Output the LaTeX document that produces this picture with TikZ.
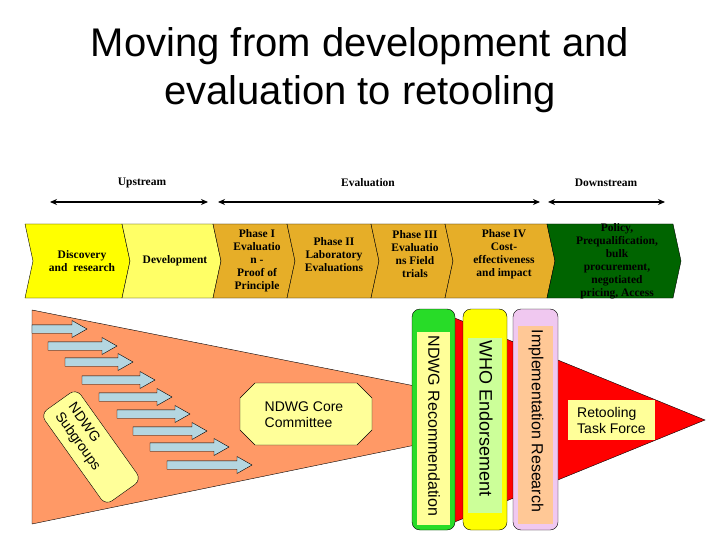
\documentclass[tikz,border=0pt]{standalone}
\usepackage{fontspec}
\setmainfont{Liberation Sans}
\newfontfamily\tms{Liberation Serif}
\usetikzlibrary{arrows.meta}
\definecolor{salmon}{RGB}{255,153,102}
\definecolor{lblue}{RGB}{180,214,224}
\definecolor{lyel}{RGB}{255,255,153}
\definecolor{chyel}{RGB}{255,255,0}
\definecolor{chlyel}{RGB}{255,255,102}
\definecolor{gold}{RGB}{230,174,40}
\definecolor{dgreen}{RGB}{0,100,0}
\definecolor{bgreen}{RGB}{40,220,40}
\definecolor{lgreen}{RGB}{204,255,153}
\definecolor{pinkb}{RGB}{240,200,240}
\definecolor{peach}{RGB}{255,200,150}
\newcommand{\chevron}[3]{% x1, x2, fill
  \draw[thin,fill=#3] (#1,224) -- (#2,224) -- ({#2+8},261) -- (#2,298) -- (#1,298) -- ({#1+8},261) -- cycle;}
\newcommand{\blockarrow}[3]{% start, tip, y
  \draw[thin,fill=lblue] (#1,{#3-4.2}) -- ({#2-15},{#3-4.2}) -- ({#2-15},{#3-8.5}) -- (#2,#3)
     -- ({#2-15},{#3+8.5}) -- ({#2-15},{#3+4.2}) -- (#1,{#3+4.2}) -- cycle;}
\tikzset{
  titletext/.style={font=\fontsize{40}{48}\selectfont, anchor=base, inner sep=0},
  headtext/.style={font=\tms\bfseries\fontsize{11.5}{13}\selectfont},
  chevtext/.style={font=\tms\bfseries\fontsize{11.5}{13}\selectfont, align=center, inner sep=0},
  harrow/.style={line width=1.6pt, {Stealth[length=7pt,width=6pt]}-{Stealth[length=7pt,width=6pt]}},
  bartext/.style={rotate=-90, font=\fontsize{16}{19}\selectfont, inner sep=0},
  boxtext/.style={font=\fontsize{14}{16}\selectfont, align=left, inner sep=0},
}
\begin{document}
\begin{tikzpicture}[x=1pt,y=-1pt]
\useasboundingbox[fill=white] (0,0) rectangle (720,540);
% title
\node[titletext] (t1) at (360,57) {Moving from development and};
\node[titletext] (t2) at (360,105) {evaluation to retooling};
% header labels
\node[headtext] (up) at (142,183) {Upstream};
\node[headtext] (ev) at (368,183) {Evaluation};
\node[headtext] (down) at (606,183) {Downstream};
\coordinate (ua) at (50,202); \coordinate (ub) at (208,202);
\coordinate (ea) at (218,202); \coordinate (eb) at (540,202);
\coordinate (da) at (548,202); \coordinate (db) at (665,202);
\draw[harrow] (ua) -- (ub);
\draw[harrow] (ea) -- (eb);
\draw[harrow] (da) -- (db);
% chevrons
\chevron{25}{122}{chyel}
\chevron{122}{213}{chlyel}
\chevron{213}{287}{gold}
\chevron{287}{371}{gold}
\chevron{371}{445}{gold}
\chevron{445}{547}{gold}
\chevron{547}{673}{dgreen}
\node[chevtext] (c1) at (82,261) {Discovery\\and~ research};
\node[chevtext] (c2) at (175,261) {Development};
\node[chevtext] (c3) at (257,261) {Phase I\\Evaluatio\\n -\\Proof of\\Principle};
\node[chevtext] (c4) at (334,255) {Phase II\\Laboratory\\Evaluations};
\node[chevtext] (c5) at (415,254) {Phase III\\Evaluatio\\ns Field\\trials};
\node[chevtext] (c6) at (504,254) {Phase IV\\Cost-\\effectiveness\\and impact};
\node[chevtext] (c7) at (617,261) {Policy,\\Prequalification,\\bulk\\procurement,\\negotiated\\pricing, Access};
% big triangles
\draw[thin,fill=salmon] (32,310) -- (561,415) -- (32,524) -- cycle;
\draw[thin,fill=red] (440,312) -- (705,420) -- (440,528) -- cycle;
% core committee
\draw[thin,fill=lyel] (255,383) -- (357,383) -- (372,398) -- (372,430) -- (357,445) -- (255,445) -- (240,430) -- (240,398) -- cycle;
\node[boxtext] (core) at (304,415) {NDWG Core\\Committee};
% block arrows
\blockarrow{32}{87}{329}
\blockarrow{48}{117}{346}
\blockarrow{65}{133}{362}
\blockarrow{82}{155}{380}
\blockarrow{99}{172}{397}
\blockarrow{117}{190}{414}
\blockarrow{133}{207}{431}
\blockarrow{150}{229}{447}
\blockarrow{167}{252}{465}
% subgroups
\node[draw, thin, fill=lyel, rounded corners=8pt, rotate=-54.5, minimum width=112pt, minimum height=44pt,
      text width=92pt, align=left, font=\fontsize{14}{16}\selectfont, inner sep=0] (sub) at (91,447) {NDWG\\Subgroups};
% bars
\draw[thin,fill=bgreen,rounded corners=8pt] (412,309) rectangle (455,530);
\fill[lyel] (417,332) rectangle (450,525);
\node[bartext] (b1) at (434,426) {NDWG Recommendation};
\draw[thin,fill=chyel,rounded corners=8pt] (463,309) rectangle (507,530);
\fill[lgreen] (468,338) rectangle (502,513);
\node[bartext, font=\fontsize{18}{21}\selectfont] (b2) at (486,419) {WHO Endorsement};
\draw[thin,fill=pinkb,rounded corners=8pt] (513,309) rectangle (558,530);
\fill[peach] (518,326) rectangle (553,524);
\node[bartext] (b3) at (536,421) {Implementation Research};
% retooling
\fill[lyel] (568,400) rectangle (655,440);
\node[boxtext, anchor=west] (ret) at (577,420) {Retooling\\Task Force};
\end{tikzpicture}
\end{document}
